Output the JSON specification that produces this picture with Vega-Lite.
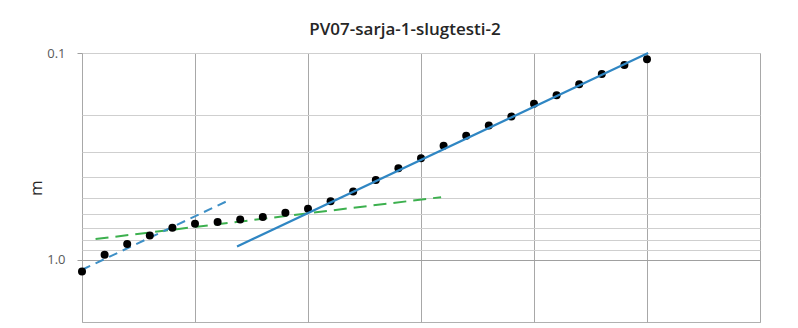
{
  "$schema": "https://vega.github.io/schema/vega-lite/v6.json",
  "autosize": {"type": "none"},
  "width": 678,
  "height": 269,
  "padding": {"left": 82, "top": 53, "right": 38, "bottom": 6},
  "background": "white",
  "title": {"text": "PV07-sarja-1-slugtesti-2", "fontSize": 17, "font": "Open Sans", "fontWeight": 600, "color": "#262626", "offset": 8, "anchor": "middle", "dx": -16},
  "config": {
    "view": {"stroke": "#b0b0b0", "strokeWidth": 1},
    "font": "Open Sans"
  },
  "datasets": {
    "pts": [
      {"t": 0, "s": 1.139}, {"t": 1, "s": 0.946}, {"t": 2, "s": 0.840}, {"t": 3, "s": 0.763},
      {"t": 4, "s": 0.700}, {"t": 5, "s": 0.670}, {"t": 6, "s": 0.657}, {"t": 7, "s": 0.639},
      {"t": 8, "s": 0.622}, {"t": 9, "s": 0.593}, {"t": 10, "s": 0.567}, {"t": 11, "s": 0.521},
      {"t": 12, "s": 0.468}, {"t": 13, "s": 0.411}, {"t": 14, "s": 0.361}, {"t": 15, "s": 0.323},
      {"t": 16, "s": 0.281}, {"t": 17, "s": 0.251}, {"t": 18, "s": 0.224}, {"t": 19, "s": 0.203},
      {"t": 20, "s": 0.176}, {"t": 21, "s": 0.160}, {"t": 22, "s": 0.1416}, {"t": 23, "s": 0.1263},
      {"t": 24, "s": 0.1143}, {"t": 25, "s": 0.1072}
    ],
    "fit1": [{"t": 6.86, "s": 0.862}, {"t": 25.05, "s": 0.1}],
    "fit2": [{"t": 0, "s": 1.118}, {"t": 6.54, "s": 0.513}],
    "fit3": [{"t": 0.6, "s": 0.794}, {"t": 15.89, "s": 0.498}]
  },
  "encoding": {
    "x": {
      "field": "t", "type": "quantitative",
      "scale": {"domain": [0, 30], "nice": false, "zero": false},
      "axis": {"values": [0, 5, 10, 15, 20, 25, 30], "grid": true, "gridColor": "#a8a8a8", "gridWidth": 1, "labels": false, "ticks": false, "domain": false, "title": null}
    },
    "y": {
      "field": "s", "type": "quantitative",
      "scale": {"type": "log", "domain": [0.1, 2], "reverse": true, "nice": false},
      "axis": {
        "values": [0.1, 0.2, 0.3, 0.4, 0.5, 0.6, 0.7, 0.8, 0.9, 1.0],
        "labelExpr": "datum.value == 0.1 ? '0.1' : (datum.value == 1 ? '1.0' : '')",
        "grid": true,
        "gridColor": {"condition": {"test": "datum.value == 1", "value": "#a0a0a0"}, "value": "#cfcfcf"},
        "gridWidth": 1,
        "domain": false,
        "ticks": true,
        "tickSize": 5,
        "tickColor": "#a0a0a0",
        "tickOpacity": {"condition": {"test": "datum.value == 1 || datum.value == 0.1", "value": 1}, "value": 0},
        "labelPadding": 12,
        "labelFontSize": 13,
        "labelColor": "#595959",
        "labelFont": "Open Sans",
        "title": "m",
        "titleFontSize": 17,
        "titleFontWeight": "normal",
        "titleColor": "#262626",
        "titlePadding": 1
      }
    }
  },
  "layer": [
    {
      "data": {"name": "fit3"},
      "mark": {"type": "line", "color": "#3cb04e", "strokeWidth": 2, "strokeDash": [13, 7]}
    },
    {
      "data": {"name": "fit2"},
      "mark": {"type": "line", "color": "#3d8fc6", "strokeWidth": 2, "strokeDash": [9, 6]}
    },
    {
      "data": {"name": "pts"},
      "mark": {"type": "circle", "color": "#000000", "size": 64, "opacity": 1}
    },
    {
      "data": {"name": "fit1"},
      "mark": {"type": "line", "color": "#2f86c3", "strokeWidth": 2.2}
    }
  ]
}
